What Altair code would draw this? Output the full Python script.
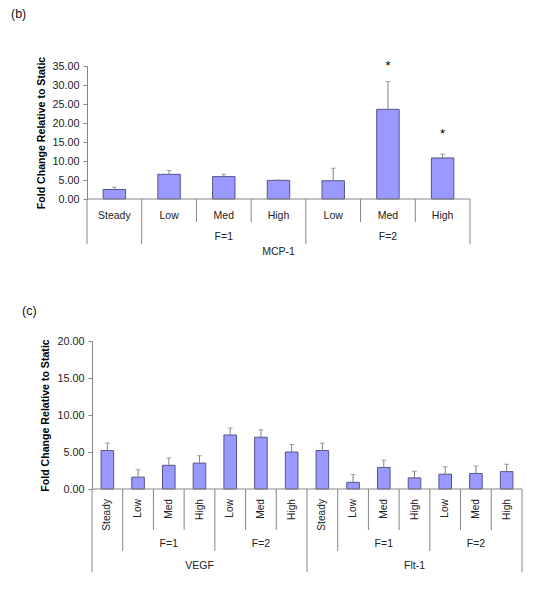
import altair as alt
import pandas as pd

# ---------------- data ----------------
# Panel (b): MCP-1
b_labels = ["Steady", "Low", "Med", "High", "Low", "Med", "High"]
b_values = [2.5, 6.5, 5.9, 4.9, 4.8, 23.6, 10.8]
b_errors = [0.6, 1.0, 0.6, 0.1, 3.3, 7.3, 1.0]
b_f_groups = [("F=1", 1, 3), ("F=2", 4, 6)]
b_gene_groups = [("MCP-1", 0, 6)]
b_star_index = [5, 6]
b_star_value = [34.0, 16.0]

# Panel (c): VEGF and Flt-1
c_labels = ["Steady", "Low", "Med", "High", "Low", "Med", "High",
            "Steady", "Low", "Med", "High", "Low", "Med", "High"]
c_values = [5.2, 1.6, 3.2, 3.5, 7.3, 7.0, 5.0,
            5.2, 0.9, 2.9, 1.5, 2.0, 2.1, 2.35]
c_errors = [1.0, 1.0, 1.0, 1.0, 0.95, 1.0, 1.0,
            1.0, 1.05, 1.0, 0.9, 1.0, 1.0, 1.0]
c_f_groups = [("F=1", 1, 3), ("F=2", 4, 6), ("F=1", 8, 10), ("F=2", 11, 13)]
c_gene_groups = [("VEGF", 0, 6), ("Flt-1", 7, 13)]

FONT = "Liberation Sans"
BAR_FILL = "#9999ff"
BAR_STROKE = "#55558a"
ERR = "#808080"
AXIS = "#868686"
TXT = "#222222"


def panel(tag, tag_x, tag_y, tag_baseline, labels, values, errors, f_groups,
          gene_groups, star_idx, star_val, ymax, width, height, xmin,
          rotated, short_len, mid_len, long_len, lab_y, f_y, gene_y,
          title_x, axis_offset):
    n = len(labels)
    half = 0.205
    bars = pd.DataFrame({
        "label": labels,
        "value": values,
        "top": [v + e for v, e in zip(values, errors)],
        "xc": [i + 0.5 for i in range(n)],
        "x0": [i + 0.5 - half for i in range(n)],
        "x1": [i + 0.5 + half for i in range(n)],
        "base": [0.0] * n,
    })
    xs = alt.Scale(domain=[xmin, n], nice=False, zero=False)
    ys = alt.Scale(domain=[0, ymax], nice=False)
    yaxis = alt.Axis(values=list(range(0, ymax + 1, 5)), format=".2f",
                     labelOverlap=False,
                     title="Fold Change Relative to Static",
                     titleX=title_x, titleY=height / 2, titleAngle=270,
                     titleAlign="center", titleBaseline="middle",
                     offset=axis_offset)
    X = lambda f: alt.X(f, type="quantitative", scale=xs, axis=None)
    Y = lambda f: alt.Y(f, type="quantitative", scale=ys, axis=yaxis)

    bar = alt.Chart(bars).mark_bar(fill=BAR_FILL, stroke=BAR_STROKE, strokeWidth=1).encode(
        x=X("x0"), x2="x1", y=Y("value"), y2="base:Q")
    err = alt.Chart(bars).mark_rule(color=ERR, strokeWidth=1).encode(
        x=X("xc"), y=Y("value"), y2="top:Q")
    cap = alt.Chart(bars).mark_tick(orient="horizontal", color=ERR, size=5,
                                    thickness=1).encode(
        x=X("xc"), y=Y("top"))

    baseline = alt.Chart(pd.DataFrame({"s": [0], "e": [n], "y": [0]})).mark_rule(
        color=AXIS, strokeWidth=1).encode(x=X("s"), x2="e", y=Y("y"))

    # dividers
    gene_bounds = set()
    for _, s, e in gene_groups:
        gene_bounds.update([s, e + 1])
    f_bounds = set()
    for _, s, e in f_groups:
        f_bounds.update([s, e + 1])
    f_bounds -= gene_bounds
    short = [k for k in range(n + 1) if k not in f_bounds and k not in gene_bounds]

    def div(pos, length):
        return alt.Chart(pd.DataFrame({"p": pos})).mark_rule(
            color=AXIS, strokeWidth=1).encode(
            x=X("p"), y=alt.value(height), y2=alt.value(height + length))

    layers = [bar, err, cap, baseline,
              div(short, short_len), div(sorted(f_bounds), mid_len),
              div(sorted(gene_bounds), long_len)]

    if rotated:
        lab = alt.Chart(bars).mark_text(angle=270, align="right", baseline="middle",
                                        font=FONT, fontSize=10.2, color=TXT).encode(
            x=X("xc"), y=alt.value(height + lab_y), text="label:N")
    else:
        lab = alt.Chart(bars).mark_text(align="center", baseline="middle",
                                        font=FONT, fontSize=10.5, color=TXT).encode(
            x=X("xc"), y=alt.value(height + lab_y), text="label:N")
    layers.append(lab)

    fdf = pd.DataFrame({"t": [g[0] for g in f_groups],
                        "m": [(g[1] + g[2] + 1) / 2 for g in f_groups]})
    layers.append(alt.Chart(fdf).mark_text(font=FONT, fontSize=10.5, color=TXT,
                                           baseline="middle").encode(
        x=X("m"), y=alt.value(height + f_y), text="t:N"))
    gdf = pd.DataFrame({"t": [g[0] for g in gene_groups],
                        "m": [(g[1] + g[2] + 1) / 2 for g in gene_groups]})
    layers.append(alt.Chart(gdf).mark_text(font=FONT, fontSize=10.5, color=TXT,
                                           baseline="middle").encode(
        x=X("m"), y=alt.value(height + gene_y), text="t:N"))

    if star_idx:
        sdf = pd.DataFrame({"xc": [i + 0.5 for i in star_idx], "v": star_val,
                            "t": ["*"] * len(star_idx)})
        layers.append(alt.Chart(sdf).mark_text(font=FONT, fontSize=13, color="#000",
                                               baseline="alphabetic").encode(
            x=X("xc"), y=Y("v"), text="t:N"))

    layers.append(alt.Chart(pd.DataFrame({"t": [tag]})).mark_text(
        font=FONT, fontSize=12.5, color="#111", align="left",
        baseline=tag_baseline).encode(
        x=alt.value(tag_x), y=alt.value(tag_y), text="t:N"))

    return alt.layer(*layers).properties(width=width, height=height)


pb = panel("(b)", -76, -58, "top", b_labels, b_values, b_errors, b_f_groups,
           b_gene_groups, b_star_index, b_star_value, 35, 383, 133, 0,
           False, 23, 45, 45, 17, 38, 53, -46, 0)

c_ppu = 430 / 14
pc = panel("(c)", -65, -30, "middle", c_labels, c_values, c_errors, c_f_groups,
           c_gene_groups, [], [], 20, 435, 148, -5 / c_ppu,
           True, 41, 62, 83, 10, 55, 77, -47, -5)

chart = alt.vconcat(pb, pc, spacing=47).properties(
    padding={"left": 3, "top": 0, "right": 5, "bottom": 5}
).configure_view(stroke=None).configure_axis(
    grid=False, domainColor=AXIS, tickColor=AXIS, tickSize=4, labelPadding=4,
    labelFont=FONT, labelFontSize=10.8, labelColor=TXT,
    titleFont=FONT, titleFontSize=10.6, titleFontWeight="bold", titleColor="#000"
)

chart.save("out.html", embed_options={"renderer": "svg", "actions": False})
